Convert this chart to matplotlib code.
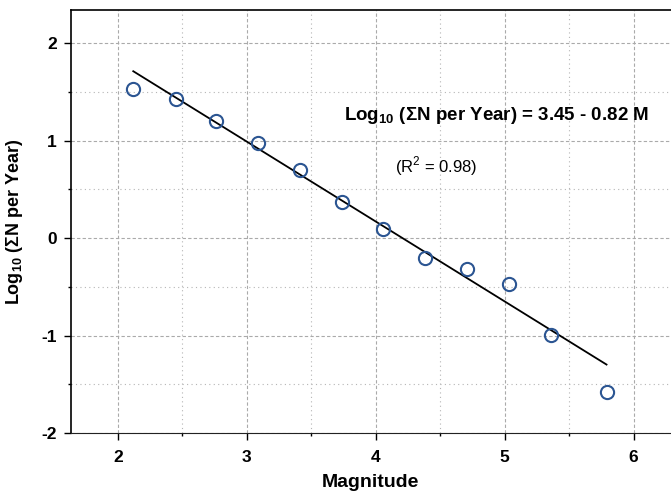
import numpy as np
import matplotlib
matplotlib.use("Agg")
import matplotlib.pyplot as plt
from matplotlib.ticker import MultipleLocator
from matplotlib import font_manager

# magnitude bins and cumulative annual counts (log10)
magnitude = [2.12, 2.45, 2.76, 3.09, 3.41, 3.74, 4.06, 4.38, 4.71, 5.03, 5.36, 5.79]
log_n = [1.53, 1.43, 1.20, 0.98, 0.70, 0.37, 0.09, -0.20, -0.32, -0.47, -0.99, -1.58]

# Gutenberg-Richter fit
a_val = 3.45
b_val = 0.82
r2 = 0.98

names = {f.name for f in font_manager.fontManager.ttflist}
narrow = "Liberation Sans Narrow" if "Liberation Sans Narrow" in names else "Liberation Sans"
plt.rcParams["font.family"] = ["Liberation Sans", "DejaVu Sans"]
plt.rcParams["mathtext.fontset"] = "custom"
plt.rcParams["mathtext.rm"] = "Liberation Sans"
plt.rcParams["mathtext.bf"] = "Liberation Sans:bold"
plt.rcParams["axes.unicode_minus"] = False

fig = plt.figure(figsize=(6.71, 4.94), dpi=100)
ax = fig.add_axes([0.1054, 0.1235, 0.8946, 0.8563])

fit_x = np.array([magnitude[0], magnitude[-1]])
fit_y = a_val - b_val * fit_x
ax.plot(fit_x, fit_y, color="black", lw=1.3, zorder=3)
ax.plot(magnitude, log_n, linestyle="none", marker="o", markersize=9.5,
        markerfacecolor="none", markeredgecolor="#2b5592", markeredgewidth=1.5, zorder=4)

ax.set_xlim(1.635, 6.29)
ax.set_ylim(-2, 2.34)
ax.xaxis.set_major_locator(MultipleLocator(1))
ax.xaxis.set_minor_locator(MultipleLocator(0.5))
ax.yaxis.set_major_locator(MultipleLocator(1))
ax.yaxis.set_minor_locator(MultipleLocator(0.5))

ax.grid(which="major", color="#aaaaaa", linestyle=(0, (3, 2)), lw=0.8)
ax.grid(which="minor", color="#b5b5b5", linestyle=(0, (1, 3)), lw=0.8)

ax.tick_params(which="major", direction="out", length=5, width=1, pad=7)
ax.tick_params(which="minor", direction="out", length=2.5, width=1)
ax.tick_params(axis="y", which="major", pad=5)

for lab in ax.get_xticklabels() + ax.get_yticklabels():
    lab.set_fontfamily(narrow)
    lab.set_fontweight("bold")
    lab.set_fontsize(12.5)

ax.spines["right"].set_visible(False)
ax.spines["bottom"].set_linestyle((0, (3, 1)))
ax.spines["bottom"].set_color("#222222")
for s in ["left", "top"]:
    ax.spines[s].set_linewidth(1.2)

ax.set_xlabel("Magnitude", fontsize=14, fontweight="bold", family=narrow, labelpad=7)
ax.set_ylabel(r"Log$_{\mathbf{10}}$ (ΣN per Year)", fontsize=13, fontweight="bold", labelpad=12)

ax.text(4.94, 1.26, r"Log$_{\mathbf{10}}$ (ΣN per Year) = %.2f - %.2f M" % (a_val, b_val),
        ha="center", va="center", fontsize=13.5, fontweight="bold")
ax.text(4.47, 0.74, r"(R$^{2}$ = %.2f)" % r2, ha="center", va="center", fontsize=12)

fig.savefig("out.png", dpi=100)
